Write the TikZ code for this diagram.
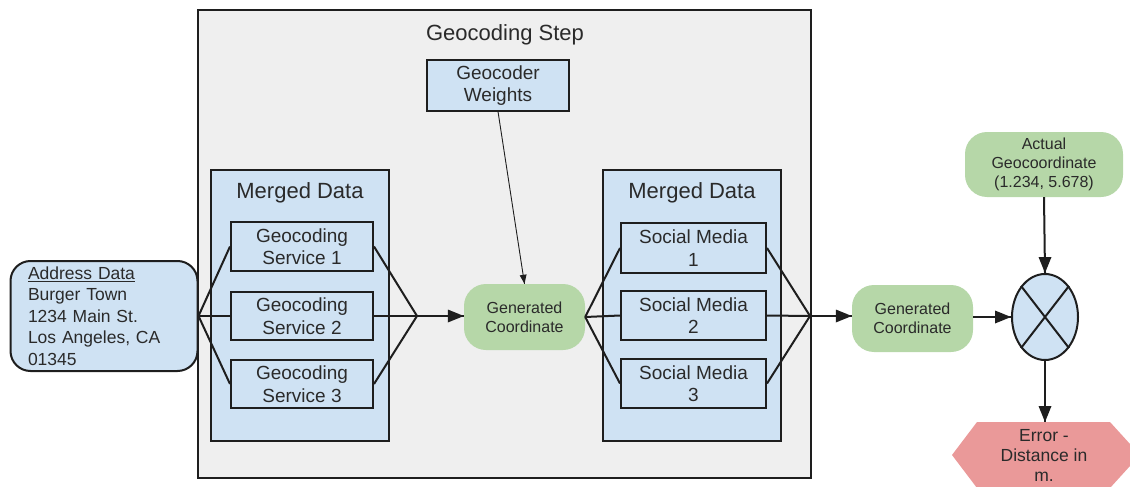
\documentclass[tikz,border=0pt]{standalone}
\usepackage{fontspec}
\setmainfont{Liberation Sans}
\usetikzlibrary{arrows.meta,shapes.geometric}
\definecolor{boxblue}{HTML}{CFE2F3}
\definecolor{stepgray}{HTML}{EFEFEF}
\definecolor{coordgreen}{HTML}{B6D7A8}
\definecolor{errred}{HTML}{EA9999}
\definecolor{ink}{HTML}{1E1E1E}
\definecolor{txt}{HTML}{2A2A2A}
\tikzset{
  every node/.style={inner sep=0pt, text=txt},
  bluebox/.style={draw=ink, line width=2pt, fill=boxblue, align=center},
  greenbox/.style={fill=coordgreen, rounded corners=22pt, align=center, font=\fontsize{16}{19}\selectfont},
  link/.style={draw=ink, line width=2pt},
  thinlink/.style={draw=ink, line width=0.9pt},
  headfill/.style={fill=ink},
}
\begin{document}
\begin{tikzpicture}[x=1pt,y=-1pt]
\useasboundingbox (0,0) rectangle (1130,487);
\begin{scope}
\clip (0,0) rectangle (1130,487);

% geocoding step frame
\node[draw=ink, line width=2pt, fill=stepgray, minimum width=613pt, minimum height=468pt] (step) at (504.5,244) {};
\node[font=\fontsize{22}{26}\selectfont] (steptitle) at (505,35) {Geocoding Step};

\node[bluebox, minimum width=142pt, minimum height=50pt, font=\fontsize{19}{22}\selectfont] (weights) at (498,85.5) {Geocoder\\Weights};

% first merged data block
\node[draw=ink, line width=2pt, fill=boxblue, minimum width=178pt, minimum height=271pt] (md1) at (300,305.5) {};
\node[font=\fontsize{22}{26}\selectfont] (md1title) at (300,193) {Merged Data};
\node[bluebox, minimum width=142pt, minimum height=49pt, font=\fontsize{19}{22.5}\selectfont] (s1) at (302,246.5) {Geocoding\\Service 1};
\node[bluebox, minimum width=142pt, minimum height=48pt, font=\fontsize{19}{22.5}\selectfont] (s2) at (302,316) {Geocoding\\Service 2};
\node[bluebox, minimum width=142pt, minimum height=48pt, font=\fontsize{19}{22.5}\selectfont] (s3) at (302,384) {Geocoding\\Service 3};

% address input
\node[draw=ink, line width=2pt, fill=boxblue, rounded corners=20pt, minimum width=187pt, minimum height=110pt,
      text width=152pt, align=left, font=\fontsize{17.5}{21.5}\selectfont] (addr) at (104,316)
  {\underline{Address Data}\\Burger Town\\1234 Main St.\\Los Angeles, CA\\01345};

\node[greenbox, minimum width=121pt, minimum height=66pt] (gen1) at (524.5,317) {Generated\\Coordinate};

% second merged data block
\node[draw=ink, line width=2pt, fill=boxblue, minimum width=178pt, minimum height=271pt] (md2) at (692,305.5) {};
\node[font=\fontsize{22}{26}\selectfont] (md2title) at (692,193) {Merged Data};
\node[bluebox, minimum width=145pt, minimum height=50pt, font=\fontsize{19}{22.5}\selectfont] (m1) at (693.5,248) {Social Media\\1};
\node[bluebox, minimum width=145pt, minimum height=49pt, font=\fontsize{19}{22.5}\selectfont] (m2) at (693.5,315.5) {Social Media\\2};
\node[bluebox, minimum width=145pt, minimum height=49pt, font=\fontsize{19}{22.5}\selectfont] (m3) at (693.5,383.5) {Social Media\\3};

\node[greenbox, minimum width=121pt, minimum height=67pt] (gen2) at (912.5,318.5) {Generated\\Coordinate};
\node[greenbox, minimum width=158pt, minimum height=65pt] (actual) at (1044,164.5) {Actual\\Geocoordinate\\(1.234, 5.678)};

% distance operator
\node[draw=ink, line width=2pt, fill=boxblue, ellipse, minimum width=66pt, minimum height=86pt] (op) at (1045,317) {};
\draw[ink, line width=2pt] (op.north west) -- (op.south east) (op.north east) -- (op.south west);

% error output
\fill[errred] (977,422) -- (1110,422) -- (1140,455) -- (1110,488) -- (977,488) -- (952,455) -- cycle;
\node[align=center, font=\fontsize{17.5}{20}\selectfont] (err) at (1044,455) {Error -\\Distance in\\m.};
\coordinate (errtop) at (1045,422);

% connectors
\coordinate (join1) at (417,316);
\coordinate (join2) at (810,316);
\foreach \s in {s1,s2,s3} {
  \draw[link] (addr.east) -- (\s.west);
  \draw[link] (\s.east) -- (join1);
}
\draw[link] (join1) -- (gen1.west |- join1);
\foreach \m in {m1,m2,m3} {
  \draw[link] (gen1.east) -- (\m.west);
  \draw[link] (\m.east) -- (join2);
}
\draw[link] (join2) -- (gen2.west |- join2);
\draw[thinlink] (weights.south) -- (gen1.north);
\draw[link] (gen2.east |- op.west) -- (op.west);
\draw[link] (actual.south) -- (op.north);
\draw[link] (op.south) -- (errtop);

% filled arrowheads
\fill[headfill] (gen1.west |- join1) -- ++(-16,-6.5) -- ++(0,13) -- cycle;
\fill[headfill] (gen2.west |- join2) -- ++(-16,-6.5) -- ++(0,13) -- cycle;
\fill[headfill] (op.west) -- ++(-16,-6.5) -- ++(0,13) -- cycle;
\fill[headfill] (op.north) -- ++(-6.5,-16) -- ++(13,0) -- cycle;
\fill[headfill] (errtop) -- ++(-6.5,-16) -- ++(13,0) -- cycle;
\fill[headfill] (gen1.north) -- ++(-4.8,-8.4) -- ++(6.9,-1.06) -- cycle;
\end{scope}
\end{tikzpicture}
\end{document}
